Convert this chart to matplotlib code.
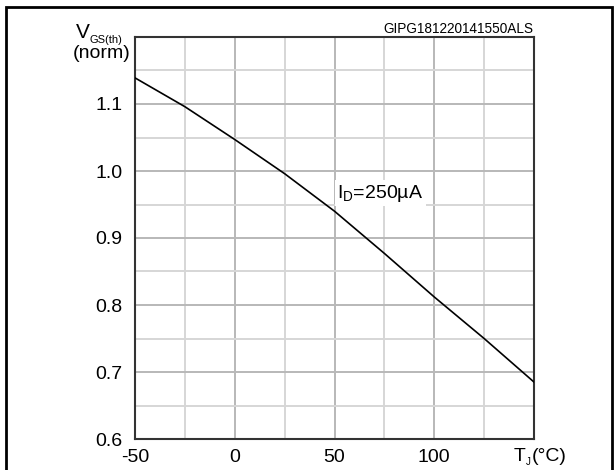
import numpy as np
import matplotlib.pyplot as plt
from matplotlib.patches import Rectangle
from matplotlib.ticker import MultipleLocator

plt.rcParams['font.family'] = ['Liberation Sans', 'DejaVu Sans']
plt.rcParams['mathtext.fontset'] = 'custom'
plt.rcParams['mathtext.rm'] = 'Liberation Sans'

# Junction temperature (°C) and normalized gate threshold voltage
tj = [-50, -25, 0, 25, 50, 75, 100, 125, 150]
vgs_norm = [1.139, 1.096, 1.047, 0.996, 0.940, 0.877, 0.812, 0.750, 0.685]

x_ticks = [-50, 0, 50, 100]
y_ticks = [0.6, 0.7, 0.8, 0.9, 1.0, 1.1]

W, H = 614, 470
fig = plt.figure(figsize=(W / 100, H / 100), dpi=100)
ax = fig.add_axes([135 / W, 1 - 439 / H, 399 / W, 402 / H])

ax.set_xlim(-50, 150)
ax.set_ylim(0.6, 1.2)
ax.xaxis.set_major_locator(MultipleLocator(50))
ax.xaxis.set_minor_locator(MultipleLocator(25))
ax.yaxis.set_major_locator(MultipleLocator(0.1))
ax.yaxis.set_minor_locator(MultipleLocator(0.05))
ax.set_xticks(x_ticks)
ax.set_xticklabels([str(v) for v in x_ticks])
ax.set_yticks(y_ticks)
ax.set_yticklabels([f"{v:.1f}" for v in y_ticks])

ax.grid(which='major', color='#b8b8b8', lw=1.4)
ax.grid(which='minor', color='#d6d6d6', lw=1.4)
ax.set_axisbelow(True)
ax.tick_params(which='both', length=0, labelsize=14, pad=9, colors='black')
ax.tick_params(axis='x', pad=7)
for s in ax.spines.values():
    s.set_color('#333333')
    s.set_linewidth(1.5)

ax.plot(tj, vgs_norm, color='black', lw=1.2, zorder=5)

ax.text(73, 0.967, r'$\mathregular{I_D}$=250µA', fontsize=14, ha='center', va='center',
        zorder=4, bbox=dict(facecolor='white', edgecolor='none', pad=2))

def px(x, y):
    return x / W, 1 - y / H

fig.text(*px(533, 33), 'GIPG181220141550ALS', fontsize=9.8, ha='right', va='baseline')
fig.text(*px(76, 38), 'V', fontsize=15, ha='left', va='baseline')
fig.text(*px(90, 43), 'GS(th)', fontsize=8, ha='left', va='baseline')
fig.text(*px(131, 58), '(norm)', fontsize=14, ha='right', va='baseline')
fig.text(*px(514, 461), 'T', fontsize=14, ha='left', va='baseline')
fig.text(*px(526, 465), 'J', fontsize=7, ha='left', va='baseline')
fig.text(*px(532, 461), '(°C)', fontsize=14, ha='left', va='baseline')

fig.patches.append(Rectangle(px(6, 480), 606 / W, 473 / H, transform=fig.transFigure,
                             fill=False, edgecolor='black', lw=2, clip_on=False))

fig.savefig('out.png', dpi=100)
